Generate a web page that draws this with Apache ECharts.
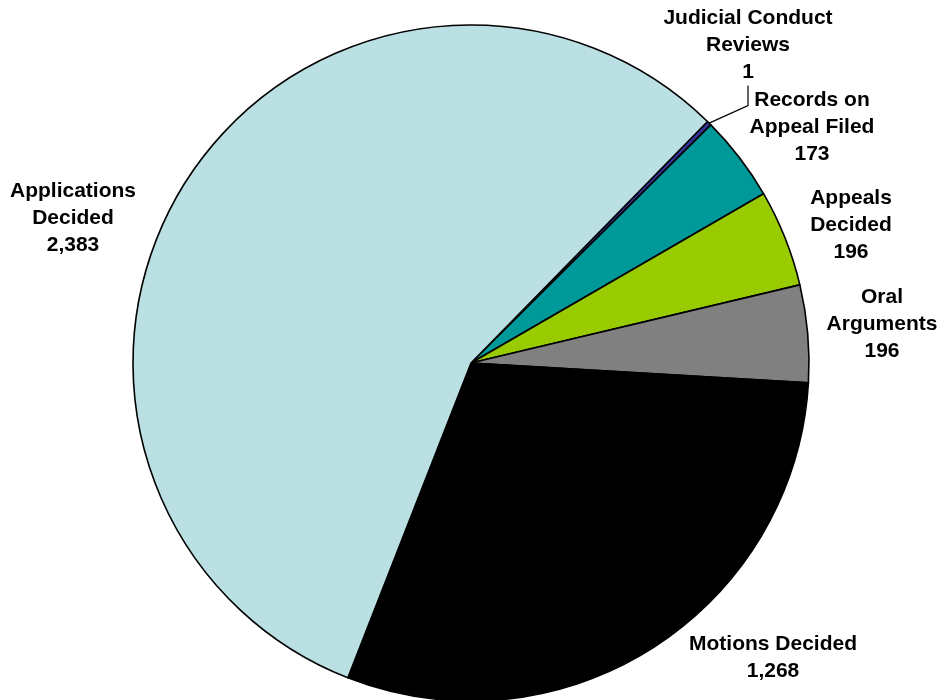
<!DOCTYPE html>
<html><head><meta charset="utf-8">
<script src="https://cdn.jsdelivr.net/npm/echarts@6/dist/echarts.min.js"></script>
<style>html,body{margin:0;padding:0;background:#fff}#c{width:943px;height:700px}</style>
</head><body><div id="c"></div>
<script>
const categories = ["Judicial Conduct\nReviews", "Records on\nAppeal Filed", "Appeals\nDecided", "Oral\nArguments", "Motions Decided", "Applications\nDecided"];
const values = [1, 173, 196, 196, 1268, 2383];
const colors = ["#333399", "#009999", "#99CC00", "#808080", "#000000", "#BBE0E3"];
// label anchor positions (centre of text block)
const labelPos = [[748, 45], [812, 127], [851, 225], [882, 324], [773, 658], [73, 218]];

const fmt = v => v.toLocaleString('en-US');
const chart = echarts.init(document.getElementById('c'), null, {renderer: 'canvas'});
chart.setOption({
  animation: false,
  series: [{
    type: 'pie',
    center: [471, 363],
    radius: 338,
    startAngle: 45.6,
    clockwise: true,
    minAngle: 0.8,
    avoidLabelOverlap: false,
    data: categories.map((n, i) => ({
      name: n, value: values[i],
      itemStyle: {color: colors[i]},
      labelLine: {show: i === 0}
    })),
    itemStyle: {borderColor: '#000', borderWidth: 1.6},
    label: {
      show: true, position: 'outside', overflow: 'none',
      formatter: p => p.name + '\n' + fmt(p.value),
      fontFamily: 'Liberation Sans, Arial, sans-serif',
      fontWeight: 'bold', fontSize: 21, lineHeight: 27,
      color: '#000', align: 'center'
    },
    labelLine: {lineStyle: {color: '#000', width: 1.2}, length: 20, length2: 20},
    labelLayout: p => ({
      x: labelPos[p.dataIndex][0], y: labelPos[p.dataIndex][1],
      align: 'center', verticalAlign: 'middle'
    }),
    emphasis: {disabled: true}
  }]
});
</script></body></html>
